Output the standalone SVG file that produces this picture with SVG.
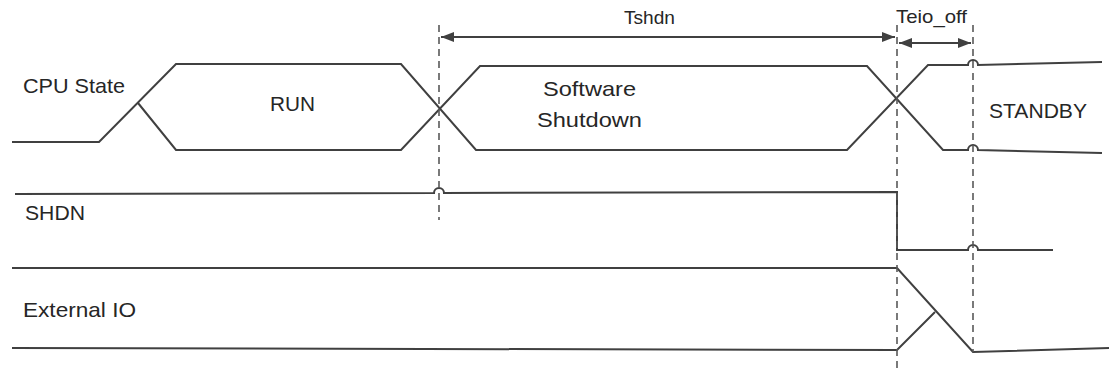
<svg xmlns="http://www.w3.org/2000/svg" width="1109" height="372" viewBox="0 0 1109 372">
<style>
.w{fill:none;stroke:#404040;stroke-width:2;stroke-linejoin:miter}
.d{fill:none;stroke:#595959;stroke-width:1.6;stroke-dasharray:7 5}
.a{fill:none;stroke:#404040;stroke-width:2}
text{font-family:"Liberation Sans",Arial,sans-serif;font-size:21px;fill:#262626}
</style>
<defs>
<marker id="ah" viewBox="0 0 13 10" refX="13" refY="5" markerWidth="13" markerHeight="10" markerUnits="userSpaceOnUse" orient="auto-start-reverse">
<path d="M0,0 L13,5 L0,10 Z" fill="#404040"/>
</marker>
</defs>
<rect width="1109" height="372" fill="#ffffff"/>
<g id="cpu-state">
<text x="23" y="93" textLength="102" lengthAdjust="spacingAndGlyphs">CPU State</text>
<path class="w" d="M12,142 L99,142 L176,64 L401,64 L476,150 L847,150 L928,65 L968,65 A5,5 0 0 1 978,65 L1102,62"/>
<path class="w" d="M138,103 L176,150 L401,150 L480,66 L867,66 L943,150 L968,150 A5,5 0 0 1 978,150 L1102,153"/>
<text x="270" y="111" textLength="45" lengthAdjust="spacingAndGlyphs">RUN</text>
<text x="543" y="96" textLength="93" lengthAdjust="spacingAndGlyphs">Software</text>
<text x="537" y="127" textLength="105" lengthAdjust="spacingAndGlyphs">Shutdown</text>
<text x="989" y="118" textLength="98" lengthAdjust="spacingAndGlyphs">STANDBY</text>
</g>
<g id="shdn">
<text x="25" y="220" textLength="60" lengthAdjust="spacingAndGlyphs">SHDN</text>
<path class="w" d="M15,194 L434,193 A5,5 0 0 1 444,193 L897,192 L897,250 L968,250 A5,5 0 0 1 978,250 L1053,250"/>
</g>
<g id="external-io">
<text x="23" y="317" textLength="113" lengthAdjust="spacingAndGlyphs">External IO</text>
<path class="w" d="M12,268 L897,268 L973,352 L1109,348"/>
<path class="w" d="M12,348 L897,350 L935,312"/>
</g>
<g id="connectors">
<line class="d" x1="439" y1="25" x2="439" y2="220"/>
<line class="d" x1="897" y1="25" x2="897" y2="370"/>
<line class="d" x1="973" y1="25" x2="973" y2="352"/>
<line class="a" x1="441" y1="37" x2="895" y2="37" marker-start="url(#ah)" marker-end="url(#ah)"/>
<line class="a" x1="899" y1="43" x2="971" y2="43" marker-start="url(#ah)" marker-end="url(#ah)"/>
<text x="624" y="24" style="font-size:19px" textLength="51" lengthAdjust="spacingAndGlyphs">Tshdn</text>
<text x="896" y="23" style="font-size:19px" textLength="71" lengthAdjust="spacingAndGlyphs">Teio_off</text>
</g>
</svg>
